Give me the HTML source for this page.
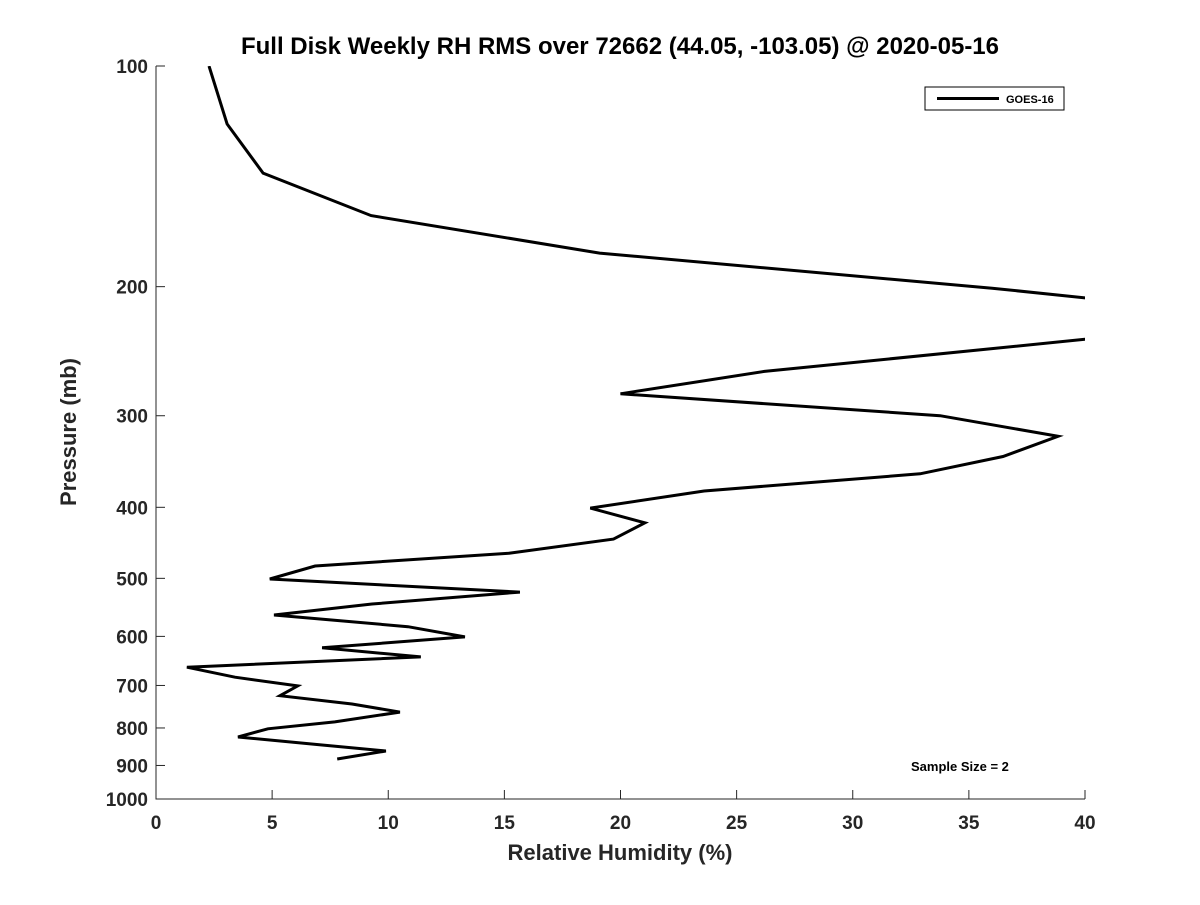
<!DOCTYPE html>
<html><head><meta charset="utf-8"><style>
body{margin:0;background:#fff;}
text{font-family:"Liberation Sans","DejaVu Sans",sans-serif;font-weight:bold;fill:#262626;}
</style></head><body>
<svg id="chart" width="1200" height="900" xmlns="http://www.w3.org/2000/svg">
<defs><clipPath id="clip"><rect x="156" y="66" width="929" height="733"/></clipPath></defs>
<text x="620" y="54" text-anchor="middle" font-size="24" style="fill:#000">Full Disk Weekly RH RMS over 72662 (44.05, -103.05) @ 2020-05-16</text>
<g id="axes"></g>
<path id="line" fill="none" stroke="#000" stroke-width="3" clip-path="url(#clip)"/>
<g>
<rect x="925" y="87" width="139" height="23" fill="#fff" stroke="#000" stroke-width="1"/>
<line x1="937" y1="98.5" x2="999" y2="98.5" stroke="#000" stroke-width="3"/>
<text x="1006" y="103" font-size="11" style="fill:#000">GOES-16</text>
</g>
<text x="911" y="771" font-size="13" style="fill:#000">Sample Size = 2</text>
<text x="620" y="860" text-anchor="middle" font-size="22">Relative Humidity (%)</text>
<text transform="translate(76,432) rotate(-90)" text-anchor="middle" font-size="22">Pressure (mb)</text>
</svg>
<script>
const rhValues=[2.28,3.06,4.61,9.26,19.1,36,40.5,47,40,26.2,20.0,33.76,38.84,36.47,32.9,23.6,18.7,21.05,19.7,15.2,6.85,4.9,15.67,9.3,5.08,10.85,13.3,7.15,11.4,1.33,3.4,6.1,5.34,8.44,10.5,7.7,4.82,3.53,7.15,9.9,7.8];
const pressures=[100,120,140,160,180,201,208,220,236,261,280,300,320,341,360,380,401,420,442,462,481,501,522,542,561,582,601,622,640,661,682,701,723,742,761,785,802,823,844,860,882];
const xTicks=[0,5,10,15,20,25,30,35,40];
const yTicks=[100,200,300,400,500,600,700,800,900,1000];
const X0=156,X1=1085,Y0=66,Y1=799;
const xs=v=>X0+(v/40)*(X1-X0);
const ys=p=>Y0+Math.log10(p/100)*(Y1-Y0);
const ns="http://www.w3.org/2000/svg";
const ax=document.getElementById('axes');
function mk(t,a){const e=document.createElementNS(ns,t);for(const k in a)e.setAttribute(k,a[k]);ax.appendChild(e);return e;}
const frame=mk('path',{d:`M${X0},${Y0}V${Y1}H${X1}`,fill:'none',stroke:'#262626','stroke-width':1});


xTicks.forEach(v=>{const x=xs(v);
const l=mk('line',{x1:x,x2:x,y1:Y1,y2:Y1-9,stroke:'#262626'});


const t=mk('text',{x:x,y:Y1+30,'text-anchor':'middle','font-size':19});t.textContent=v;

});
yTicks.forEach(p=>{const y=ys(p);
const l=mk('line',{x1:X0,x2:X0+9,y1:y,y2:y,stroke:'#262626'});


const t=mk('text',{x:X0-8,y:y+7,'text-anchor':'end','font-size':19});t.textContent=p;

});
document.getElementById('line').setAttribute('d',rhValues.map((v,i)=>(i?'L':'M')+xs(v).toFixed(1)+','+ys(pressures[i]).toFixed(1)).join(''));
</script>
</body></html>
